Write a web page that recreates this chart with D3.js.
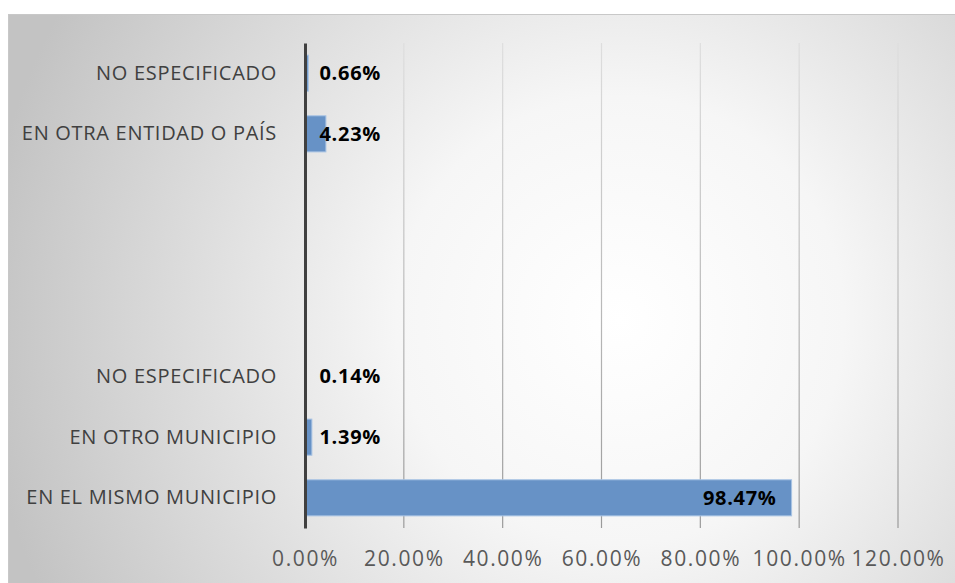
<!DOCTYPE html>
<html>
<head>
<meta charset="utf-8">
<script src="https://cdn.jsdelivr.net/npm/d3@7"></script>
<style>
  body { margin: 0; background: #fff; }
  svg { display: block; }
</style>
</head>
<body>
<svg id="chart" width="955" height="583"></svg>
<script>
// categories bottom to top, blanks are the empty gap rows
var categories = ["EN EL MISMO MUNICIPIO", "EN OTRO MUNICIPIO", "NO ESPECIFICADO", " ", "  ", "   ", "EN OTRA ENTIDAD O PAÍS", "NO ESPECIFICADO "];
var values = [98.47, 1.39, 0.14, null, null, null, 4.23, 0.66];
var ticks = [0, 20, 40, 60, 80, 100, 120];

var svg = d3.select("svg#chart");
var width = 955, height = 583;
var margin = {left: 305, right: 57, top: 43, bottom: 55};

var defs = svg.append("defs");
var bg = defs.append("radialGradient")
    .attr("id", "bg")
    .attr("gradientUnits", "userSpaceOnUse")
    .attr("cx", 620).attr("cy", 320).attr("r", 640);
bg.append("stop").attr("offset", "0%").attr("stop-color", "#ffffff");
bg.append("stop").attr("offset", "35%").attr("stop-color", "#f6f6f6");
bg.append("stop").attr("offset", "100%").attr("stop-color", "#c3c3c3");

var gridGrad = defs.append("linearGradient")
    .attr("id", "gridgrad")
    .attr("gradientUnits", "userSpaceOnUse")
    .attr("x1", 0).attr("y1", margin.top).attr("x2", 0).attr("y2", height - margin.bottom);
gridGrad.append("stop").attr("offset", "0%").attr("stop-color", "#dedede");
gridGrad.append("stop").attr("offset", "100%").attr("stop-color", "#9a9a9a");

// chart area
svg.append("rect")
    .attr("x", 8.5).attr("y", 14.5)
    .attr("width", width).attr("height", height)
    .attr("fill", "url(#bg)")
    .attr("stroke", "#c8c8c8");

var x = d3.scaleLinear()
    .domain([0, 120])
    .range([margin.left, width - margin.right]);

var y = d3.scaleBand()
    .domain(categories)
    .range([height - margin.bottom, margin.top])
    .paddingInner(0.405)
    .paddingOuter(0.2);

// gridlines
svg.append("g")
    .selectAll("line")
    .data(ticks.slice(1))
    .enter()
    .append("line")
    .attr("x1", d => x(d)).attr("x2", d => x(d))
    .attr("y1", margin.top).attr("y2", height - margin.bottom)
    .attr("stroke", "url(#gridgrad)")
    .attr("stroke-width", 1.2);

// x axis labels
var xAxis = svg.append("g")
    .attr("transform", "translate(0," + (height - margin.bottom) + ")")
    .call(d3.axisBottom(x).tickValues(ticks).tickFormat(d => d.toFixed(2) + "%").tickSize(0).tickPadding(23));
xAxis.select(".domain").remove();
xAxis.selectAll("text")
    .attr("fill", "#595959")
    .style("font-family", "'Open Sans', sans-serif")
    .style("font-size", "21px")
    .style("letter-spacing", "1.6px");

// bars
var data = categories.map((c, i) => ({cat: c, v: values[i]})).filter(d => d.v != null);

svg.append("g")
    .selectAll("rect")
    .data(data)
    .enter()
    .append("rect")
    .attr("x", x(0))
    .attr("y", d => y(d.cat))
    .attr("width", d => x(d.v) - x(0))
    .attr("height", y.bandwidth())
    .attr("fill", "#6792c6")
    .attr("stroke", "#a8c3e4")
    .attr("stroke-width", 1);

// y axis with category labels
var yAxis = svg.append("g")
    .attr("transform", "translate(" + x(0) + ",0)")
    .call(d3.axisLeft(y).tickSize(0).tickPadding(28));
yAxis.select(".domain")
    .attr("stroke", "#404040")
    .attr("stroke-width", 3);
yAxis.selectAll("text")
    .attr("fill", "#404040")
    .style("font-family", "'Open Sans', sans-serif")
    .style("font-size", "20px")
    .style("letter-spacing", "0.7px");

// data labels
svg.append("g")
    .selectAll("text")
    .data(data)
    .enter()
    .append("text")
    .attr("x", d => Math.max(x(d.v) - 15, x(0) + 76))
    .attr("y", d => y(d.cat) + y.bandwidth() / 2)
    .attr("dy", "0.35em")
    .attr("text-anchor", "end")
    .attr("fill", "#000")
    .style("font-family", "'Open Sans', sans-serif")
    .style("font-weight", "bold")
    .style("font-size", "20px")
    .style("letter-spacing", "0.7px")
    .text(d => d.v.toFixed(2) + "%");
</script>
</body>
</html>
